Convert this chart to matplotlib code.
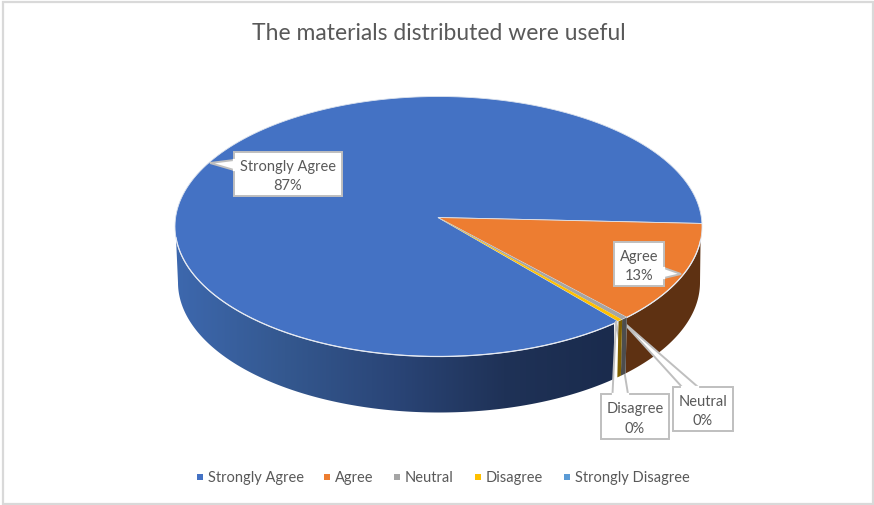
import matplotlib.pyplot as plt
import numpy as np
from matplotlib.colors import LinearSegmentedColormap
from matplotlib.patches import Polygon, Rectangle

plt.rcParams['font.family'] = ['Lato', 'DejaVu Sans']

title = 'The materials distributed were useful'
categories = ['Strongly Agree', 'Agree', 'Neutral', 'Disagree', 'Strongly Disagree']
values = [86.6, 12.7, 0.4, 0.3, 0.0]
colors = ['#4472C4', '#ED7D31', '#A5A5A5', '#FFC000', '#5B9BD5']
side_colors = [None, '#5E3112', '#4D4D4D', '#7F6000', None]

TEXT = '#595959'
BOX = '#BFBFBF'
FS = 10.5

# pie geometry, in pixels
CX, CY, RX, RY = 438.5, 227.5, 263.5, 130
APEX = (438, 218.5)
BCX, BCY, BRX, BRY = 439, 283.5, 261, 130
FIRST_ANGLE = 136.9


def top_arc(a, b):
    t = np.radians(np.linspace(a, b, 200))
    return np.column_stack([CX + RX * np.sin(t), CY - RY * np.cos(t)])


def bottom_arc(a, b):
    t = np.radians(np.linspace(a, b, 200))
    return np.column_stack([BCX + BRX * np.sin(t), BCY - BRY * np.cos(t)])


def callout(ax, box, tip, base, lines):
    """ White label box with a pointer running from base (two points) to tip"""
    x0, y0, x1, y1 = box
    ax.add_patch(Polygon([base[0], tip, base[1]], closed=True, fc='white', ec=BOX, lw=1.4, zorder=6))
    ax.add_patch(Rectangle((x0, y0), x1 - x0, y1 - y0, fc='white', ec=BOX, lw=1.4, zorder=7))
    ax.plot([base[0][0], base[1][0]], [base[0][1], base[1][1]], color='white', lw=1.6, zorder=8)
    ax.text((x0 + x1) / 2, (y0 + y1) / 2 + 1.5, lines, ha='center', va='center', color=TEXT,
            fontsize=FS, linespacing=1.5, zorder=9)


fig = plt.figure(figsize=(8.74, 5.06), dpi=100)
ax = fig.add_axes([0, 0, 1, 1])

# slice boundaries, clockwise from the first angle, wrapped back below 360
ends = FIRST_ANGLE + np.cumsum(values) * 3.6
starts = ends - np.array(values) * 3.6
agree_end = ends[1] - 360

# side wall of the first slice, shaded left to right
blue_wall = Polygon(np.vstack([top_arc(starts[0], 265), bottom_arc(270, starts[0])]),
                    closed=True, fc='none', ec='none')
ax.add_patch(blue_wall)
shade = LinearSegmentedColormap.from_list('wall', ['#3D68AE', '#34588F', '#2A4577', '#1F3257', '#1A2B4D'])
im = ax.imshow(np.linspace(0, 1, 256).reshape(1, -1), extent=[175, 614, 415, 230], aspect='auto',
               cmap=shade, zorder=1)
im.set_clip_path(blue_wall)

# side wall of the second slice, which starts where the rim turns downwards
ax.add_patch(Polygon(np.vstack([top_arc(96, agree_end), bottom_arc(agree_end, 90)]),
                     closed=True, fc=side_colors[1], ec='none', zorder=1))

# pointer boxes for the two thin slices sit under their side walls
callout(ax, (673, 388, 733, 432), (622, 322), [(682, 388), (698, 388)], 'Neutral\n%d%%' % round(values[2]))
callout(ax, (601, 395, 669, 440), (616, 322), [(612.5, 395), (628, 395)], 'Disagree\n%d%%' % round(values[3]))

for i in (2, 3):
    ax.add_patch(Polygon(np.vstack([top_arc(starts[i], ends[i]), bottom_arc(ends[i], starts[i])]),
                         closed=True, fc=side_colors[i], ec='none', zorder=6.5))

# top face
for i in range(len(values)):
    if values[i] == 0:
        continue
    pts = np.vstack([[APEX], top_arc(starts[i], ends[i])])
    edge = '#DCE3EE' if i < 2 else 'none'
    ax.add_patch(Polygon(pts, closed=True, fc=colors[i], ec=edge, lw=0.6, zorder=3))

rim = top_arc(96, 265)
ax.plot(rim[:, 0], rim[:, 1], color='#E6EAF2', lw=0.9, zorder=4)

callout(ax, (234, 153, 342, 197), (210, 164), [(234, 161), (234, 171)],
        '%s\n%d%%' % (categories[0], round(values[0])))
callout(ax, (614, 243, 664, 287), (681, 275), [(664, 269), (664, 279)],
        '%s\n%d%%' % (categories[1], round(values[1])))

ax.text(438.5, 33, title, ha='center', va='center', color=TEXT, fontsize=16.5)

# legend row
legend_x = [200, 327, 397, 478, 567]
for x, name, c in zip(legend_x, categories, colors):
    ax.scatter([x], [478], marker='s', s=22, color=c, linewidths=0, zorder=5)
    ax.text(x + 8, 478.5, name, ha='left', va='center', color=TEXT, fontsize=FS)

# outer frame
ax.add_patch(Rectangle((3, 3), 870, 501.5, fc='none', ec='#D9D9D9', lw=1.6, zorder=10))

ax.set_xlim(0, 874)
ax.set_ylim(506, 0)
ax.axis('off')

fig.savefig('out.png', dpi=100)
